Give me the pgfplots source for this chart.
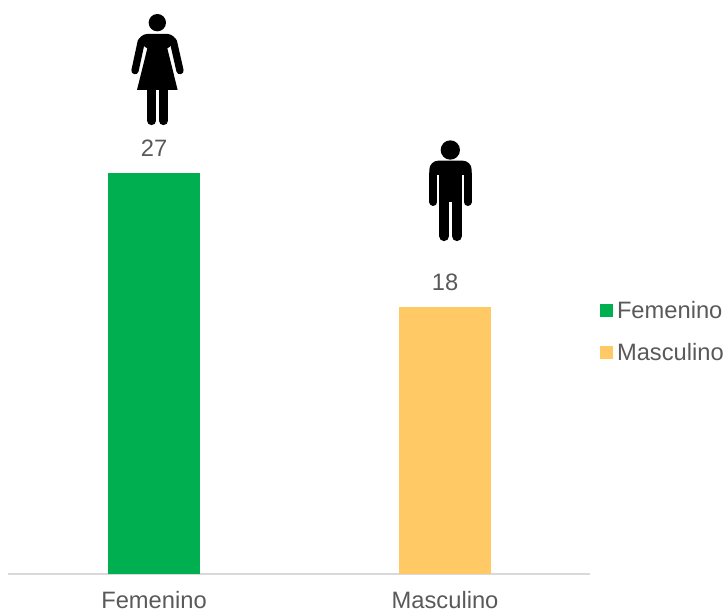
\documentclass[border=0pt]{standalone}
\usepackage{fontspec}
\setmainfont{Liberation Sans}
\usepackage{pgfplots}
\pgfplotsset{compat=1.18}
\definecolor{gtext}{HTML}{595959}
\definecolor{gaxis}{HTML}{D9D9D9}
\definecolor{fem}{HTML}{00B050}
\definecolor{mas}{HTML}{FFC966}
\begin{document}
\begin{tikzpicture}[x=1pt,y=1pt]
\useasboundingbox (0,0) rectangle (728,-611);
\begin{axis}[
  at={(8pt,-573.8pt)}, anchor=south west,
  scale only axis, width=582pt, height=573.8pt,
  xmin=-0.5017, xmax=1.498, ymin=0, ymax=38.68,
  axis x line=bottom, axis y line=none,
  axis line style={draw=gaxis,line width=2pt,-},
  xtick={0,1}, xticklabels={Femenino,Masculino},
  xtick style={draw=none},
  ticklabel style={font=\fontsize{23.7}{28}\selectfont,text=gtext},
  xticklabel style={inner sep=0pt,text depth=0pt,yshift=-13pt},
  ybar, bar width=92pt, bar shift=0pt,
  clip=false,
  nodes near coords,
  every node near coord/.append style={font=\fontsize{23.7}{28}\selectfont,text=gtext,yshift=13pt},
  /pgf/number format/assume math mode=true,
  legend style={at={(1.0172,0.4782)},anchor=north west,draw=none,fill=none,
    font=\fontsize{23.7}{28}\selectfont,text=gtext,
    cells={anchor=west},inner sep=0pt,outer sep=0pt,row sep=19pt,
    /tikz/every even column/.append style={column sep=10pt},
    nodes={inner xsep=4pt,inner ysep=2pt}},
  legend image code/.code={\fill[#1] (0pt,-6.5pt) rectangle (13pt,6.5pt);},
]
\addplot[draw=none,fill=fem] coordinates {(0,27)};
\addplot[draw=none,fill=mas] coordinates {(1,18)};
\legend{Femenino,Masculino}
\end{axis}
% woman icon
\begin{scope}[shift={(100,0)},x=0.3333pt,y=-0.3333pt]
\fill (172,68) circle[radius=26];
\fill[rounded corners=3pt] (132,102) -- (212,102) -- (230,118) -- (203,147) -- (141,147) -- (114,118) -- cycle;
\fill (147,125) -- (197,125) -- (233,270) -- (111,270) -- cycle;
\draw[line width=7.3pt,line cap=round] (124,124) -- (105,212);
\draw[line width=7.3pt,line cap=round] (220,124) -- (240,212);
\draw[line width=9pt,line cap=round] (155,262) -- (155,362);
\draw[line width=9pt,line cap=round] (190,262) -- (190,362);
\end{scope}
% man icon
\begin{scope}[shift={(390,-130)},x=0.3333pt,y=-0.3333pt]
\fill (181,60) circle[radius=29];
\fill[rounded corners=9pt] (118,150) -- (118,92) -- (245,92) -- (245,150) -- cycle;
\fill[white] (142,136) rectangle (147,160);
\fill[white] (216,136) rectangle (221,160);
\fill (147,120) rectangle (216,215);
\draw[line width=8pt,line cap=round] (130,130) -- (130,216);
\draw[line width=8pt,line cap=round] (233,130) -- (233,216);
\draw[line width=10.3pt,line cap=round] (162.5,200) -- (162.5,318);
\draw[line width=10.3pt,line cap=round] (200.5,200) -- (200.5,318);
\end{scope}
\end{tikzpicture}
\end{document}
